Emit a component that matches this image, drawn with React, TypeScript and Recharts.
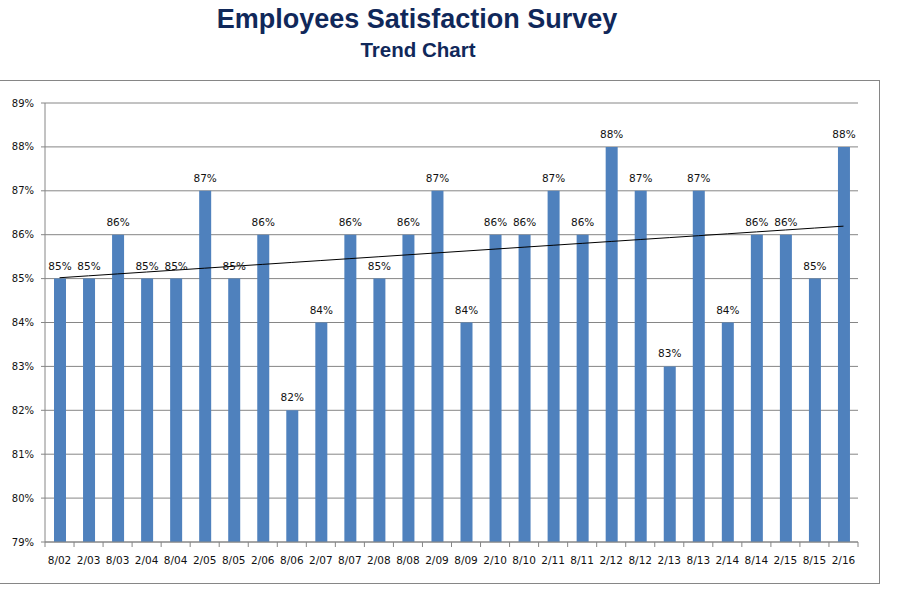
import { Bar, ComposedChart, Line, XAxis, YAxis, CartesianGrid, LabelList } from "recharts"

const categories = [
  "8/02", "2/03", "8/03", "2/04", "8/04", "2/05", "8/05", "2/06", "8/06", "2/07",
  "8/07", "2/08", "8/08", "2/09", "8/09", "2/10", "8/10", "2/11", "8/11", "2/12",
  "8/12", "2/13", "8/13", "2/14", "8/14", "2/15", "8/15", "2/16",
]
const satisfaction = [
  85, 85, 86, 85, 85, 87, 85, 86, 82, 84,
  86, 85, 86, 87, 84, 86, 86, 87, 86, 88,
  87, 83, 87, 84, 86, 86, 85, 88,
]
const yTicks = [79, 80, 81, 82, 83, 84, 85, 86, 87, 88, 89]

// linear trendline (least squares), like the spreadsheet one
const n = satisfaction.length
const meanX = (n - 1) / 2
const meanY = satisfaction.reduce((a, b) => a + b, 0) / n
let sxy = 0
let sxx = 0
satisfaction.forEach((v, i) => {
  sxy += (i - meanX) * (v - meanY)
  sxx += (i - meanX) * (i - meanX)
})
const slope = sxy / sxx
const intercept = meanY - slope * meanX

const chartData = categories.map((c, i) => ({
  period: c,
  value: satisfaction[i],
  trend: intercept + slope * i,
}))

const PLOT_LEFT = 45
const PLOT_RIGHT = 858
const BAND = (PLOT_RIGHT - PLOT_LEFT) / categories.length
const AXIS_GREY = "#868686"
const TITLE_FONT = "'Liberation Sans', Arial, sans-serif"
const FONT = "'DejaVu Sans', Verdana, sans-serif"

function XTick({ x, y, payload, index }: any) {
  const last = index === categories.length - 1
  return (
    <g>
      <line x1={x - BAND / 2} x2={x - BAND / 2} y1={y} y2={y + 5} stroke={AXIS_GREY} />
      {last && <line x1={x + BAND / 2} x2={x + BAND / 2} y1={y} y2={y + 5} stroke={AXIS_GREY} />}
      <text x={x} y={y + 22} textAnchor="middle" fontSize={10.5} fill="#111" fontFamily={FONT}>
        {payload.value}
      </text>
    </g>
  )
}

export default function App() {
  return (
    <div style={{ position: "absolute", left: 0, top: 0, width: 897, height: 590, background: "#fff", overflow: "hidden" }}>
      <div
        style={{
          position: "absolute",
          left: -1,
          top: 80,
          width: 879,
          height: 502,
          border: `1px solid ${AXIS_GREY}`,
        }}
      />
      <svg width={897} height={70} style={{ position: "absolute", left: 0, top: 0 }}>
        <text x={417} y={28} textAnchor="middle" fontSize={27} fontWeight="bold" fill="#10285a" fontFamily={TITLE_FONT}>
          Employees Satisfaction Survey
        </text>
        <text x={418} y={57} textAnchor="middle" fontSize={20.5} fontWeight="bold" fill="#10285a" fontFamily={TITLE_FONT}>
          Trend Chart
        </text>
      </svg>
      <div style={{ position: "absolute", left: 0, top: 0 }}>
        <ComposedChart width={897} height={590} data={chartData} margin={{ top: 103, right: 39, bottom: 8, left: 0 }}>
          <CartesianGrid vertical={false} stroke={AXIS_GREY} />
          <XAxis
            dataKey="period"
            height={40}
            interval={0}
            axisLine={{ stroke: AXIS_GREY }}
            tickLine={false}
            tickSize={0}
            tickMargin={0}
            tick={<XTick />}
          />
          <YAxis
            width={45}
            domain={[79, 89]}
            ticks={yTicks}
            interval={0}
            axisLine={{ stroke: AXIS_GREY }}
            tickLine={{ stroke: AXIS_GREY }}
            tickSize={4}
            tickMargin={7}
            tick={{ fontSize: 10, fill: "#111", fontFamily: FONT }}
            tickFormatter={(v: number) => `${v}%`}
          />
          <Bar dataKey="value" fill="#4f81bd" barSize={12} isAnimationActive={false}>
            <LabelList
              dataKey="value"
              position="top"
              offset={9}
              fill="#111"
              fontSize={10.5}
              fontFamily={FONT}
              formatter={(v: any) => `${v}%`}
            />
          </Bar>
          <Line
            dataKey="trend"
            type="linear"
            stroke="#000"
            strokeWidth={1}
            dot={false}
            activeDot={false}
            isAnimationActive={false}
          />
        </ComposedChart>
      </div>
    </div>
  )
}
